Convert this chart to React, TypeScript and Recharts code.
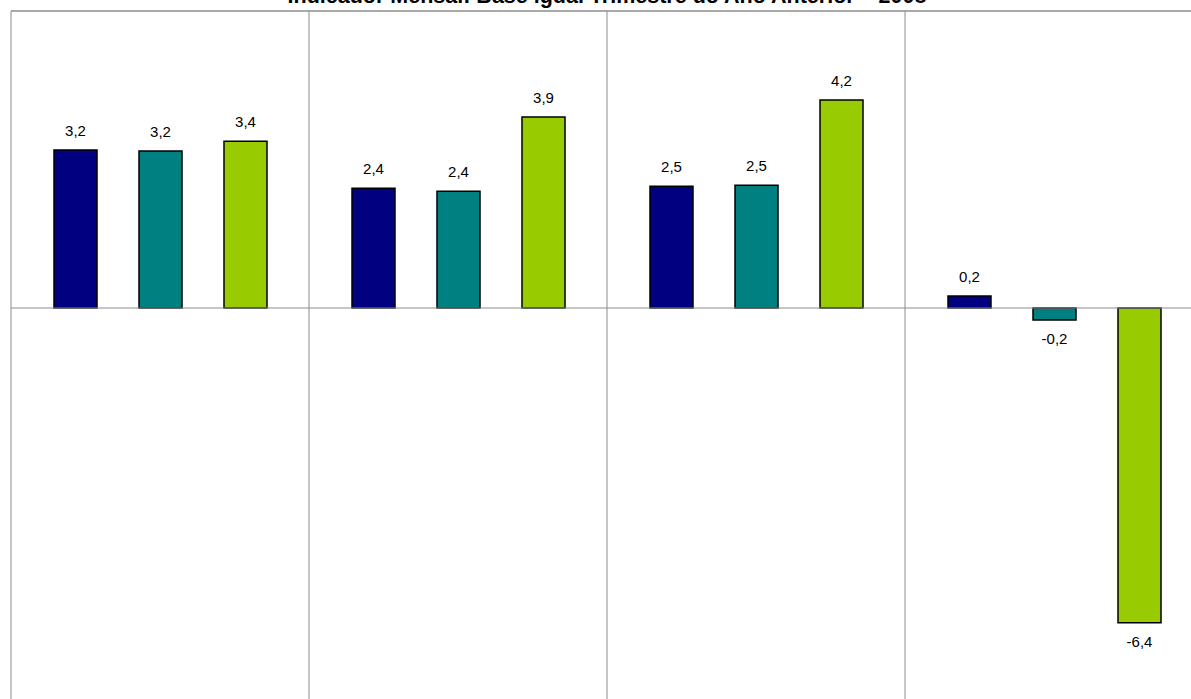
import React from 'react';
import { BarChart, Bar, XAxis, YAxis, ReferenceLine, LabelList, CartesianGrid } from 'recharts';

const categories = ['1º Tri', '2º Tri', '3º Tri', '4º Tri'];
const serie1 = [3.19, 2.42, 2.46, 0.24];
const serie2 = [3.17, 2.36, 2.48, -0.24];
const serie3 = [3.37, 3.86, 4.2, -6.36];
const title = 'Indicador Mensal: Base igual Trimestre do Ano Anterior – 2008';

const data = categories.map((c, i) => ({ name: c, s1: serie1[i], s2: serie2[i], s3: serie3[i] }));

const FONT = '"Liberation Sans", Arial, sans-serif';
const GRID = '#8c8c8c';

const renderLabel = (props: any) => {
  const { x, y, width, height, value } = props;
  const top = Math.min(y, y + height);
  const bottom = Math.max(y, y + height);
  const cx = x + width / 2;
  const ty = value >= 0 ? top - 14 : bottom + 24;
  return (
    <text x={cx} y={ty} textAnchor="middle" fontSize={15} fontFamily={FONT} fill="#000">
      {Number(value).toFixed(1).replace('.', ',')}
    </text>
  );
};

const separators = (props: any) => {
  const off = props.offset || {};
  const left = off.left ?? 11;
  const w = off.width ?? 1192;
  const n = categories.length;
  return categories.map((_, i) => left + (i * w) / n).concat([left + w]);
};

export default function App() {
  return (
    <div style={{ position: 'absolute', left: 0, top: 0, width: 1191, height: 699, overflow: 'hidden', background: '#fff' }}>
      <BarChart
        width={1215}
        height={720}
        data={data}
        margin={{ top: 11, left: 11, right: 12, bottom: 16 }}
        barSize={43}
        barGap={42}
      >
        <CartesianGrid horizontal={false} vertical stroke={GRID} strokeWidth={1} verticalCoordinatesGenerator={separators} />
        <XAxis dataKey="name" hide />
        <YAxis domain={[-8, 6]} hide allowDataOverflow />
        <ReferenceLine y={6} stroke={GRID} strokeWidth={1.5} />
        <Bar dataKey="s1" fill="#000080" stroke="#000" strokeWidth={1.5} isAnimationActive={false}>
          <LabelList dataKey="s1" content={renderLabel} />
        </Bar>
        <Bar dataKey="s2" fill="#008080" stroke="#000" strokeWidth={1.5} isAnimationActive={false}>
          <LabelList dataKey="s2" content={renderLabel} />
        </Bar>
        <Bar dataKey="s3" fill="#99CC00" stroke="#000" strokeWidth={1.5} isAnimationActive={false}>
          <LabelList dataKey="s3" content={renderLabel} />
        </Bar>
        <ReferenceLine y={0} stroke={GRID} strokeWidth={1} />
      </BarChart>
      <svg width={1191} height={20} style={{ position: 'absolute', left: 0, top: 0 }}>
        <text x={607} y={3} textAnchor="middle" fontSize={21.5} fontWeight="bold" fontFamily={FONT} fill="#000">
          {title}
        </text>
      </svg>
    </div>
  );
}
